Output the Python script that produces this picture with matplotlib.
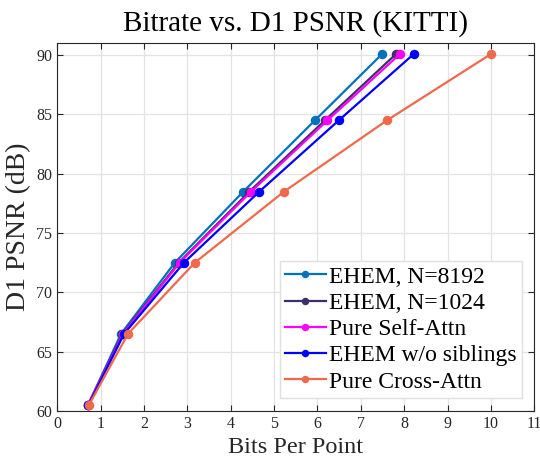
import matplotlib
matplotlib.use("Agg")
import matplotlib.pyplot as plt

plt.rcParams["font.family"] = ["Liberation Serif", "DejaVu Serif"]

psnr = [60.5, 66.5, 72.5, 78.5, 84.5, 90.1]

bpp_8192 = [0.71, 1.47, 2.71, 4.29, 5.94, 7.49]
bpp_1024 = [0.71, 1.50, 2.80, 4.43, 6.17, 7.81]
bpp_self = [0.71, 1.52, 2.82, 4.47, 6.23, 7.90]
bpp_sib = [0.72, 1.54, 2.92, 4.66, 6.49, 8.22]
bpp_cross = [0.73, 1.63, 3.17, 5.23, 7.60, 10.0]

labels = ["EHEM, N=8192", "EHEM, N=1024", "Pure Self-Attn",
          "EHEM w/o siblings", "Pure Cross-Attn"]
colors = ["#0072BD", "#3E2F6B", "#FF00FF", "#0000FF", "#F0694B"]
series = [bpp_8192, bpp_1024, bpp_self, bpp_sib, bpp_cross]

fig = plt.figure(figsize=(5.4, 4.61), dpi=100)
ax = fig.add_axes([0.106, 0.1085, 0.8835, 0.7975])

for x, lab, c in zip(series, labels, colors):
    ax.plot(x, psnr, "-o", color=c, label=lab, linewidth=1.6, markersize=5.8)

ax.set_xlim(0, 11)
ax.set_ylim(60, 91)
ax.set_xticks(range(0, 12))
ax.set_yticks(range(60, 91, 5))
ax.tick_params(direction="in", labelsize=11.5, colors="#262626", length=4,
               top=True, right=True)
ax.grid(True, color="#e3e3e3", linewidth=0.9)
ax.set_axisbelow(True)
for s in ax.spines.values():
    s.set_color("#262626")

ax.set_xlabel("Bits Per Point", fontsize=17.5, color="#262626")
ax.set_ylabel("D1 PSNR (dB)", fontsize=20, color="#262626")
ax.set_title("Bitrate vs. D1 PSNR (KITTI)", fontsize=21, color="#000000",
             pad=9)

leg = ax.legend(loc="lower right", bbox_to_anchor=(0.974, 0.036), fontsize=17,
                handlelength=1.72, handletextpad=0.15, borderpad=0.22,
                labelspacing=0.2, fancybox=False, framealpha=1,
                edgecolor="#e0e0e0", markerscale=0.75, borderaxespad=0)
leg.get_frame().set_linewidth(1.0)

fig.savefig("out.png", dpi=100)
